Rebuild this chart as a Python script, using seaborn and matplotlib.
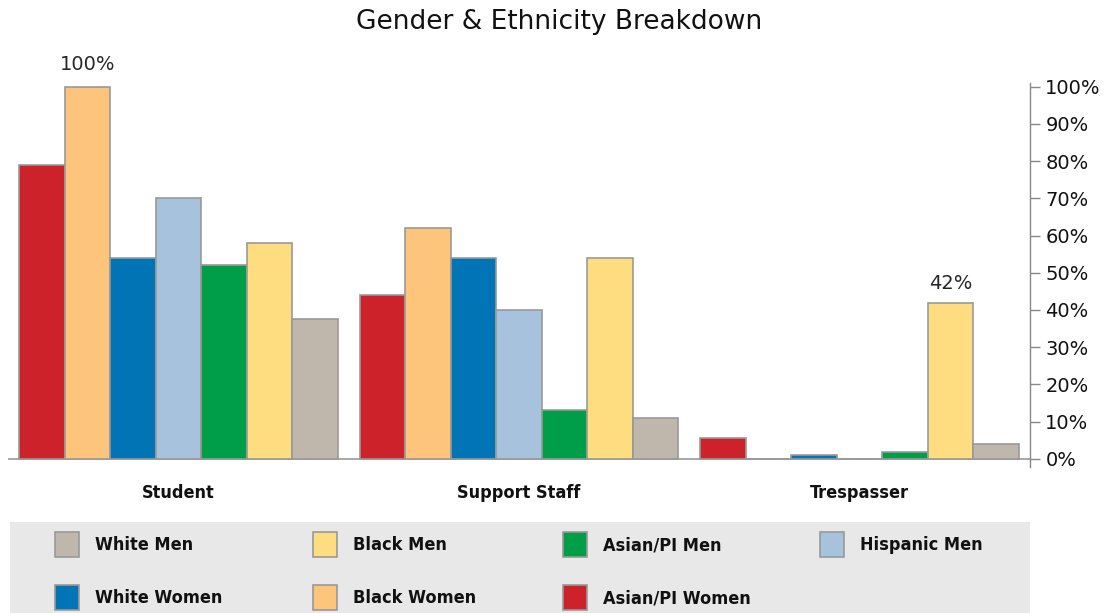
import pandas as pd
import numpy as np
import seaborn as sns
import matplotlib.pyplot as plt
from matplotlib.patches import Rectangle, Patch

roles = ['Student', 'Support Staff', 'Trespasser']
groups = ['Asian/PI Women', 'Black Women', 'White Women', 'Hispanic Men',
          'Asian/PI Men', 'Black Men', 'White Men']
asian_women = [79, 44, 5.5]
black_women = [100, 62, 0]
white_women = [54, 54, 1]
hispanic_men = [70, 40, 0]
asian_men = [52, 13, 1.7]
black_men = [58, 54, 42]
white_men = [37.5, 11, 4]

colors = ['#cd2229', '#fdc57b', '#0074b4', '#a6c2dc', '#009e49', '#fedd80', '#bfb7ab']
pal = dict(zip(groups, colors))

vals = [asian_women, black_women, white_women, hispanic_men, asian_men, black_men, white_men]
rows = []
for g, v in zip(groups, vals):
    for r, x in zip(roles, v):
        rows.append({'role': r, 'group': g, 'pct': x})
df = pd.DataFrame(rows)

sns.set_style('white')

fig = plt.figure(figsize=(11.19, 6.13), dpi=100)
ax = fig.add_axes([8 / 1119, 1 - 467 / 613, 1022 / 1119, 384 / 613])

sns.barplot(data=df, x='role', y='pct', hue='group', hue_order=groups, order=roles,
            palette=pal, width=0.935, edgecolor='#999999', linewidth=1.2,
            saturation=1, legend=False, ax=ax)

ax.set_xlim(-0.5, 2.5)
ax.set_ylim(-2.2, 101)
ax.axhline(0, color='#999999', lw=1.2, zorder=0)

ax.yaxis.tick_right()
ax.set_yticks(range(0, 101, 10))
ax.set_yticklabels([f'{t}%' for t in range(0, 101, 10)], fontsize=14, color='#111111')
ax.tick_params(axis='y', direction='out', length=7, width=1, color='#888888', pad=4)
ax.tick_params(axis='x', length=0, pad=12)
ax.set_xticks(range(3))
ax.set_xticklabels(roles, fontsize=13, fontweight='bold', fontstretch='condensed',
                   color='#111111')
ax.set_xlabel('')
ax.set_ylabel('')
for s in ['top', 'left', 'bottom']:
    ax.spines[s].set_visible(False)
ax.spines['right'].set_color('#888888')
ax.spines['right'].set_linewidth(1)

# value labels
ax.bar_label(ax.containers[1], labels=['100%', '', ''], padding=9, fontsize=14)
ax.bar_label(ax.containers[5], labels=['', '', '42%'], padding=7, fontsize=14)

fig.suptitle('Gender & Ethnicity Breakdown', fontsize=19, y=0.985, color='#111111')

# legend box
fig.patches.append(Rectangle((10 / 1119, 0), 1020 / 1119, 91 / 613,
                             transform=fig.transFigure, facecolor='#e8e8e8',
                             edgecolor='none', zorder=0))
leg_cols = [['White Men', 'White Women'], ['Black Men', 'Black Women'],
            ['Asian/PI Men', 'Asian/PI Women'], ['Hispanic Men']]
col_x = [55, 313, 563, 820]
for names, cx in zip(leg_cols, col_x):
    handles = [Patch(facecolor=pal[g], edgecolor='#999999', linewidth=1.2) for g in names]
    leg = fig.legend(handles, names, loc='upper left',
                     bbox_to_anchor=(cx / 1119, 1 - 532 / 613), frameon=False,
                     prop={'weight': 'bold', 'size': 13, 'stretch': 'condensed'},
                     handlelength=1.35, handleheight=1.75, handletextpad=0.85,
                     labelspacing=1.55, borderpad=0, borderaxespad=0)
    for t in leg.get_texts():
        t.set_color('#111111')

fig.savefig('out.png', dpi=100)
